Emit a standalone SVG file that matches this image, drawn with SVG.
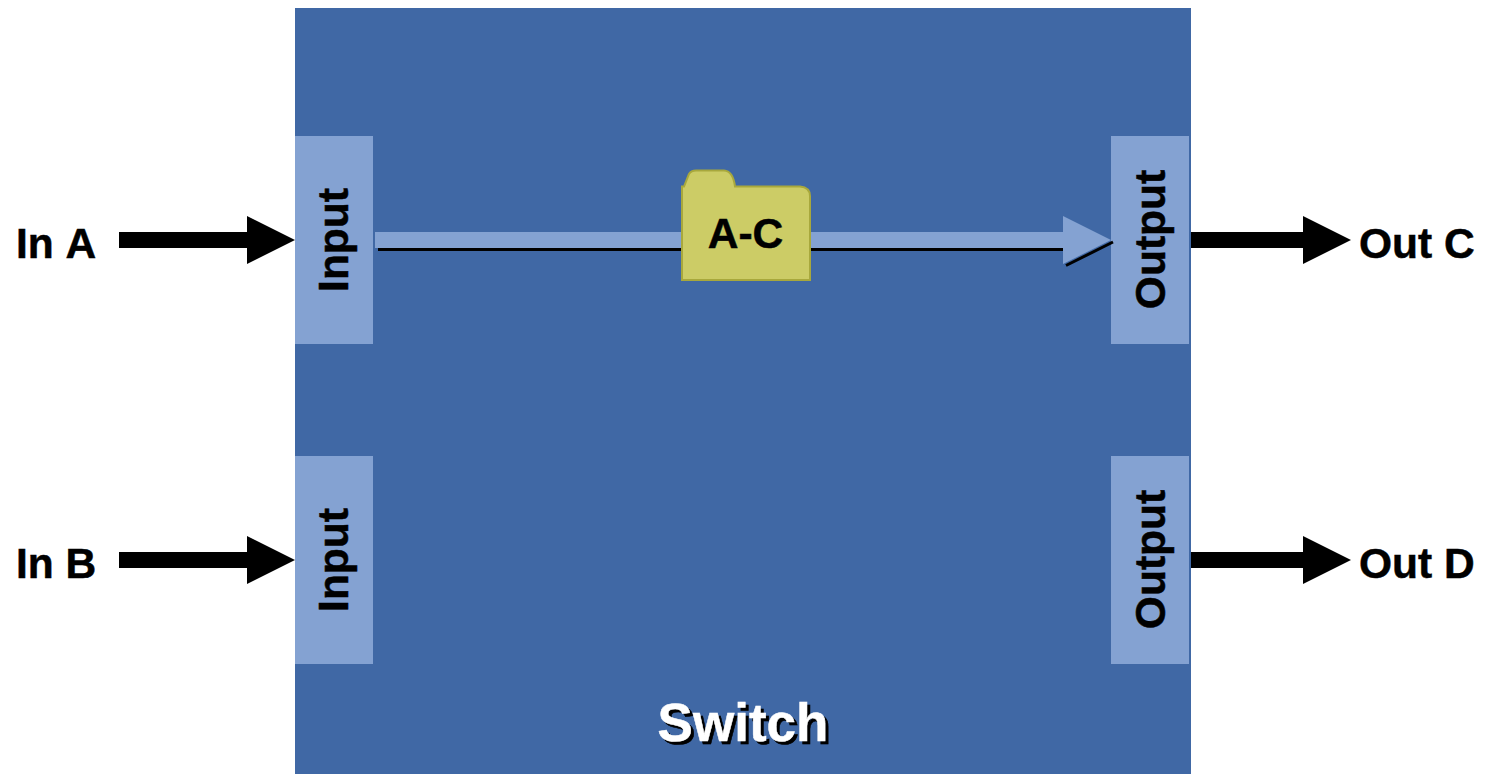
<svg xmlns="http://www.w3.org/2000/svg" width="1485" height="774" viewBox="0 0 1485 774">
<style>
text{font-family:"Liberation Sans",Arial,sans-serif;font-weight:700;fill:#000;font-kerning:none}
.lbl{font-size:42.500px;stroke:#000;stroke-width:.5px}
.port{fill:#84a2d2}
.mid{text-anchor:middle}
.title{font-size:53px;fill:#fff;stroke:#fff;stroke-width:.5px;filter:url(#shadow)}
</style>
<defs>
<path id="arrow-in" d="M0 -8H128V-24L176 0L128 24V8H0Z" fill="#000"/>
<path id="arrow-out" d="M0 -8H112V-24L160 0L112 24V8H0Z" fill="#000"/>
<filter id="shadow" x="-10%" y="-20%" width="120%" height="140%" color-interpolation-filters="sRGB"><feDropShadow dx="3" dy="3" stdDeviation="0" flood-color="#000"/></filter>
</defs>
<rect width="1485" height="774" fill="#fff"/>
<g id="switch">
<rect x="295" y="8" width="896" height="766" fill="#4068a5"/>
<text x="743" y="741" class="mid title">Switch</text>
</g>
<g id="input-a"><rect class="port" x="295" y="136" width="78" height="208"/><text class="lbl mid" transform="translate(347.500 240) rotate(-90)">Input</text></g>
<g id="input-b"><rect class="port" x="295" y="456" width="78" height="208"/><text class="lbl mid" transform="translate(347.500 560) rotate(-90)">Input</text></g>
<g id="output-c"><rect class="port" x="1111" y="136" width="78" height="208"/><text class="lbl mid" transform="translate(1164.500 239.500) rotate(-90)">Output</text></g>
<g id="output-d"><rect class="port" x="1111" y="456" width="78" height="208"/><text class="lbl mid" transform="translate(1164.500 559.500) rotate(-90)">Output</text></g>
<g id="connectors">
<use href="#arrow-in" x="119" y="240"/>
<use href="#arrow-in" x="119" y="560"/>
<use href="#arrow-out" x="1191" y="240"/>
<use href="#arrow-out" x="1191" y="560"/>
<path d="M375 232H1063V216L1111 240L1063 264V248H375Z" fill="#84a2d2"/>
<path d="M378 249.500H681M811 249.500H1063M1066 265.500L1113 242" fill="none" stroke="#000" stroke-width="3"/>
</g>
<g id="folder-ac">
<path d="M682 280V186.500H684L689 174Q691 170.500 696 170.500H724Q733 171 735 186.500H800Q810 187.500 810 196V280Z" fill="#cccc66" stroke="#a8a83c" stroke-width="2"/>
<text x="745.500" y="248" class="lbl mid">A-C</text>
</g>
<g id="labels">
<text x="16" y="258" class="lbl">In A</text>
<text x="16" y="578" class="lbl">In B</text>
<text x="1359" y="258" class="lbl">Out C</text>
<text x="1359" y="578" class="lbl">Out D</text>
</g>
</svg>
